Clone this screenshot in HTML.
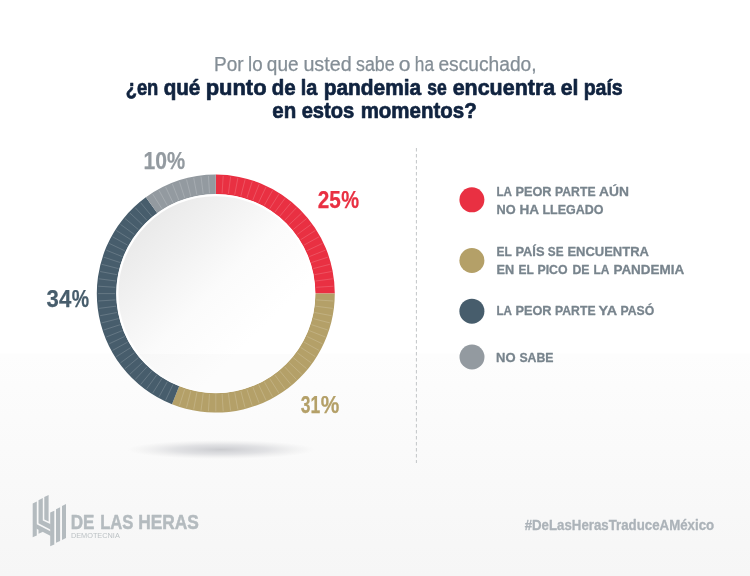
<!DOCTYPE html>
<html lang="es">
<head>
<meta charset="utf-8">
<title>¿En qué punto de la pandemia se encuentra el país?</title>
<style>
  html, body { margin: 0; padding: 0; }
  body { width: 750px; height: 576px; overflow: hidden; background: #fff;
         font-family: "Liberation Sans", sans-serif; }
  .card { position: relative; width: 750px; height: 576px; overflow: hidden;
          background: linear-gradient(to bottom, #ffffff 0px, #ffffff 353px, #fdfdfd 354px, #f6f6f6 576px); }
  svg { position: absolute; left: 0; top: 0; display: block; }
  svg text { font-family: "Liberation Sans", sans-serif; white-space: pre; }
</style>
</head>
<body>
<div class="card">
<svg width="750" height="576" viewBox="0 0 750 576">
  <defs>
    <clipPath id="discClip"><circle cx="215.8" cy="293.6" r="99.4"/></clipPath>
    <linearGradient id="disc" x1="0.15" y1="0.15" x2="0.85" y2="0.85">
      <stop offset="0" stop-color="#eaeaea"/>
      <stop offset="0.48" stop-color="#fbfbfb"/>
      <stop offset="0.8" stop-color="#ffffff"/>
    </linearGradient>
    <radialGradient id="shadow" cx="0.5" cy="0.5" r="0.5">
      <stop offset="0" stop-color="#c8c9cd" stop-opacity="0.95"/>
      <stop offset="0.5" stop-color="#d0d1d5" stop-opacity="0.6"/>
      <stop offset="1" stop-color="#e0e0e0" stop-opacity="0"/>
    </radialGradient>
  </defs>

  <!-- title -->
  <g id="title">
    <text y="70.5" font-size="19.5" font-weight="400" fill="#848e96" stroke="#848e96" stroke-width="0.25" stroke-linejoin="round"><tspan x="214.03" textLength="29.55" lengthAdjust="spacingAndGlyphs">Por</tspan> <tspan x="248.03" textLength="14.56" lengthAdjust="spacingAndGlyphs">lo</tspan> <tspan x="266.82" textLength="31.76" lengthAdjust="spacingAndGlyphs">que</tspan> <tspan x="303.43" textLength="48.16" lengthAdjust="spacingAndGlyphs">usted</tspan> <tspan x="356.03" textLength="38.56" lengthAdjust="spacingAndGlyphs">sabe</tspan> <tspan x="398.82" textLength="11.75" lengthAdjust="spacingAndGlyphs">o</tspan> <tspan x="414.82" textLength="19.14" lengthAdjust="spacingAndGlyphs">ha</tspan> <tspan x="438.43" textLength="98.15" lengthAdjust="spacingAndGlyphs">escuchado,</tspan></text>
    <text y="95.0" font-size="22.9" font-weight="700" fill="#10233f" stroke="#10233f" stroke-width="0.7" stroke-linejoin="round"><tspan x="125.65" textLength="32.70" lengthAdjust="spacingAndGlyphs">¿en</tspan> <tspan x="163.65" textLength="36.70" lengthAdjust="spacingAndGlyphs">qué</tspan> <tspan x="205.65" textLength="60.91" lengthAdjust="spacingAndGlyphs">punto</tspan> <tspan x="271.65" textLength="23.90" lengthAdjust="spacingAndGlyphs">de</tspan> <tspan x="300.65" textLength="16.56" lengthAdjust="spacingAndGlyphs">la</tspan> <tspan x="323.65" textLength="97.55" lengthAdjust="spacingAndGlyphs">pandemia</tspan> <tspan x="427.25" textLength="19.51" lengthAdjust="spacingAndGlyphs">se</tspan> <tspan x="452.65" textLength="102.56" lengthAdjust="spacingAndGlyphs">encuentra</tspan> <tspan x="560.65" textLength="17.70" lengthAdjust="spacingAndGlyphs">el</tspan> <tspan x="583.65" textLength="39.10" lengthAdjust="spacingAndGlyphs">país</tspan></text>
    <text y="117.6" font-size="22.9" font-weight="700" fill="#10233f" stroke="#10233f" stroke-width="0.7" stroke-linejoin="round"><tspan x="272.25" textLength="23.90" lengthAdjust="spacingAndGlyphs">en</tspan> <tspan x="301.65" textLength="52.71" lengthAdjust="spacingAndGlyphs">estos</tspan> <tspan x="360.65" textLength="116.10" lengthAdjust="spacingAndGlyphs">momentos?</tspan></text>
  </g>

  <!-- donut chart -->
  <ellipse cx="221" cy="449.6" rx="94" ry="9.5" fill="url(#shadow)"/>
  <g id="donut">
    <path fill="#e93042" d="M215.80 174.60A119.0 119.0 0 0 1 334.80 293.60L315.20 293.60A99.4 99.4 0 0 0 215.80 194.20Z"/>
    <path fill="#b4a068" d="M334.80 293.60A119.0 119.0 0 0 1 171.99 404.24L179.21 386.02A99.4 99.4 0 0 0 315.20 293.60Z"/>
    <path fill="#475d6c" d="M171.99 404.24A119.0 119.0 0 0 1 145.85 197.33L157.37 213.18A99.4 99.4 0 0 0 179.21 386.02Z"/>
    <path fill="#939aa0" d="M145.85 197.33A119.0 119.0 0 0 1 215.80 174.60L215.80 194.20A99.4 99.4 0 0 0 157.37 213.18Z"/>
    <path d="M222.1 193.2L223.2 176.0M228.4 193.8L230.6 176.7M234.7 194.8L237.9 177.9M240.8 196.2L245.1 179.5M246.9 197.9L252.2 181.6M252.8 200.1L259.2 184.1M258.6 202.6L266.0 187.0M264.3 205.4L272.6 190.4M269.7 208.7L278.9 194.1M274.9 212.2L285.0 198.3M279.9 216.1L290.9 202.8M284.7 220.3L296.4 207.7M289.1 224.7L301.7 213.0M293.3 229.5L306.6 218.5M297.2 234.5L311.1 224.4M300.7 239.7L315.3 230.5M304.0 245.1L319.0 236.8M306.8 250.8L322.4 243.4M309.3 256.6L325.3 250.2M311.5 262.5L327.8 257.2M313.2 268.6L329.9 264.3M314.6 274.7L331.5 271.5M315.6 281.0L332.7 278.8M316.2 287.3L333.4 286.2M316.2 299.9L333.4 301.0M315.6 306.2L332.7 308.4M314.6 312.5L331.5 315.7M313.2 318.6L329.9 322.9M311.5 324.7L327.8 330.0M309.3 330.6L325.3 337.0M306.8 336.4L322.4 343.8M304.0 342.1L319.0 350.4M300.7 347.5L315.3 356.7M297.2 352.7L311.1 362.8M293.3 357.7L306.6 368.7M289.1 362.5L301.7 374.2M284.7 366.9L296.4 379.5M279.9 371.1L290.9 384.4M274.9 375.0L285.0 388.9M269.7 378.5L278.9 393.1M264.3 381.8L272.6 396.8M258.6 384.6L266.0 400.2M252.8 387.1L259.2 403.1M246.9 389.3L252.2 405.6M240.8 391.0L245.1 407.7M234.7 392.4L237.9 409.3M228.4 393.4L230.6 410.5M222.1 394.0L223.2 411.2M215.8 394.2L215.8 411.4M209.5 394.0L208.4 411.2M203.2 393.4L201.0 410.5M196.9 392.4L193.7 409.3M190.8 391.0L186.5 407.7M184.7 389.3L179.4 405.6M173.0 384.6L165.6 400.2M167.3 381.8L159.0 396.8M161.9 378.5L152.7 393.1M156.7 375.0L146.6 388.9M151.7 371.1L140.7 384.4M146.9 366.9L135.2 379.5M142.5 362.5L129.9 374.2M138.3 357.7L125.0 368.7M134.4 352.7L120.5 362.8M130.9 347.5L116.3 356.7M127.6 342.1L112.6 350.4M124.8 336.4L109.2 343.8M122.3 330.6L106.3 337.0M120.1 324.7L103.8 330.0M118.4 318.6L101.7 322.9M117.0 312.5L100.1 315.7M116.0 306.2L98.9 308.4M115.4 299.9L98.2 301.0M115.2 293.6L98.0 293.6M115.4 287.3L98.2 286.2M116.0 281.0L98.9 278.8M117.0 274.7L100.1 271.5M118.4 268.6L101.7 264.3M120.1 262.5L103.8 257.2M122.3 256.6L106.3 250.2M124.8 250.8L109.2 243.4M127.6 245.1L112.6 236.8M130.9 239.7L116.3 230.5M134.4 234.5L120.5 224.4M138.3 229.5L125.0 218.5M142.5 224.7L129.9 213.0M146.9 220.3L135.2 207.7M151.7 216.1L140.7 202.8M161.9 208.7L152.7 194.1M167.3 205.4L159.0 190.4M173.0 202.6L165.6 187.0M178.8 200.1L172.4 184.1M184.7 197.9L179.4 181.6M190.8 196.2L186.5 179.5M196.9 194.8L193.7 177.9M203.2 193.8L201.0 176.7M209.5 193.2L208.4 176.0" stroke="#ffffff" stroke-opacity="0.28" stroke-width="0.6" fill="none"/>
    <circle cx="215.8" cy="293.6" r="99.6" fill="#ffffff"/>
    <circle cx="215.8" cy="293.6" r="97.4" fill="url(#disc)"/>
    <rect x="110" y="354" width="212" height="40" fill="#000000" fill-opacity="0.012" clip-path="url(#discClip)"/>
  </g>
  <g id="values">
    <text y="168.7" font-size="23.8" font-weight="700" fill="#939aa0" stroke="#939aa0" stroke-width="0.25" stroke-linejoin="round"><tspan x="143.62" textLength="23.46" lengthAdjust="spacingAndGlyphs">10</tspan><tspan x="167.12" textLength="18.15" lengthAdjust="spacingAndGlyphs">%</tspan></text>
    <text y="207.8" font-size="23.8" font-weight="700" fill="#e93042" stroke="#e93042" stroke-width="0.25" stroke-linejoin="round"><tspan x="317.72" textLength="23.06" lengthAdjust="spacingAndGlyphs">25</tspan><tspan x="341.32" textLength="17.85" lengthAdjust="spacingAndGlyphs">%</tspan></text>
    <text y="306.9" font-size="23.8" font-weight="700" fill="#475d6c" stroke="#475d6c" stroke-width="0.25" stroke-linejoin="round"><tspan x="46.62" textLength="24.66" lengthAdjust="spacingAndGlyphs">34</tspan><tspan x="71.83" textLength="17.35" lengthAdjust="spacingAndGlyphs">%</tspan></text>
    <text y="412.8" font-size="23.8" font-weight="700" fill="#b4a068" stroke="#b4a068" stroke-width="0.25" stroke-linejoin="round"><tspan x="300.72" textLength="19.46" lengthAdjust="spacingAndGlyphs">31</tspan><tspan x="320.72" textLength="18.55" lengthAdjust="spacingAndGlyphs">%</tspan></text>
  </g>

  <!-- divider -->
  <line x1="416.4" y1="148" x2="416.4" y2="463" stroke="#c2c5c8" stroke-width="1" stroke-dasharray="3.5 2.5"/>

  <!-- legend -->
  <g id="legend" fill="#78848d">
    <circle cx="471.9" cy="199.8" r="12.5" fill="#e93042"/>
    <text y="195.8" font-size="13.5" font-weight="700" fill="#78848d" stroke="#78848d" stroke-width="0.3" stroke-linejoin="round"><tspan x="496.45" textLength="15.10" lengthAdjust="spacingAndGlyphs">LA</tspan> <tspan x="515.45" textLength="36.10" lengthAdjust="spacingAndGlyphs">PEOR</tspan> <tspan x="555.05" textLength="40.50" lengthAdjust="spacingAndGlyphs">PARTE</tspan> <tspan x="599.05" textLength="29.89" lengthAdjust="spacingAndGlyphs">AÚN</tspan></text>
    <text y="213.8" font-size="13.5" font-weight="700" fill="#78848d" stroke="#78848d" stroke-width="0.3" stroke-linejoin="round"><tspan x="496.45" textLength="19.10" lengthAdjust="spacingAndGlyphs">NO</tspan> <tspan x="519.45" textLength="19.10" lengthAdjust="spacingAndGlyphs">HA</tspan> <tspan x="542.45" textLength="61.10" lengthAdjust="spacingAndGlyphs">LLEGADO</tspan></text>
    <circle cx="471.9" cy="260.5" r="12.5" fill="#b4a068"/>
    <text y="255.8" font-size="13.5" font-weight="700" fill="#78848d" stroke="#78848d" stroke-width="0.3" stroke-linejoin="round"><tspan x="496.45" textLength="15.10" lengthAdjust="spacingAndGlyphs">EL</tspan> <tspan x="515.45" textLength="29.10" lengthAdjust="spacingAndGlyphs">PAÍS</tspan> <tspan x="547.85" textLength="15.70" lengthAdjust="spacingAndGlyphs">SE</tspan> <tspan x="567.45" textLength="81.50" lengthAdjust="spacingAndGlyphs">ENCUENTRA</tspan></text>
    <text y="273.8" font-size="13.5" font-weight="700" fill="#78848d" stroke="#78848d" stroke-width="0.3" stroke-linejoin="round"><tspan x="496.45" textLength="17.70" lengthAdjust="spacingAndGlyphs">EN</tspan> <tspan x="518.45" textLength="15.10" lengthAdjust="spacingAndGlyphs">EL</tspan> <tspan x="537.45" textLength="30.10" lengthAdjust="spacingAndGlyphs">PICO</tspan> <tspan x="572.45" textLength="17.10" lengthAdjust="spacingAndGlyphs">DE</tspan> <tspan x="593.45" textLength="15.50" lengthAdjust="spacingAndGlyphs">LA</tspan> <tspan x="613.45" textLength="70.70" lengthAdjust="spacingAndGlyphs">PANDEMIA</tspan></text>
    <circle cx="471.9" cy="311.2" r="12.5" fill="#475d6c"/>
    <text y="314.6" font-size="13.5" font-weight="700" fill="#78848d" stroke="#78848d" stroke-width="0.3" stroke-linejoin="round"><tspan x="496.45" textLength="15.10" lengthAdjust="spacingAndGlyphs">LA</tspan> <tspan x="515.45" textLength="36.10" lengthAdjust="spacingAndGlyphs">PEOR</tspan> <tspan x="555.05" textLength="40.50" lengthAdjust="spacingAndGlyphs">PARTE</tspan> <tspan x="598.45" textLength="18.11" lengthAdjust="spacingAndGlyphs">YA</tspan> <tspan x="620.45" textLength="33.70" lengthAdjust="spacingAndGlyphs">PASÓ</tspan></text>
    <circle cx="472" cy="357" r="12.5" fill="#939aa0"/>
    <text y="361.6" font-size="13.5" font-weight="700" fill="#78848d" stroke="#78848d" stroke-width="0.3" stroke-linejoin="round"><tspan x="496.05" textLength="19.50" lengthAdjust="spacingAndGlyphs">NO</tspan> <tspan x="519.45" textLength="34.10" lengthAdjust="spacingAndGlyphs">SABE</tspan></text>
  </g>

  <!-- footer -->
  <g id="footer" fill="#b4bbbf">
    <g id="logo">
      <polygon points="32.7,503.5 36.8,501.6 36.8,535.6 32.7,537.2"/>
      <polygon points="38.5,500.3 42.8,498.1 42.8,520.4 50.8,524.2 50.8,529.8 38.5,523.3"/>
      <polygon points="44.3,497.1 48.6,494.9 48.6,521.6 44.3,519.5"/>
      <polygon points="36.2,524.1 50.8,531.4 50.8,535.9 42.5,531.8 42.5,532.1 38.5,533.7 38.5,529.7 36.2,528.6"/>
      <polygon points="50.2,512.5 54.3,510.7 54.3,544.4 50.2,546.3"/>
      <polygon points="56,509.3 60.1,507.2 60.1,540.9 56,542.8"/>
      <polygon points="62,505.9 66,504 66,538 62,539.9"/>
    </g>
    <text y="529.2" font-size="20.6" font-weight="700" fill="#b4bbbf" stroke="#b4bbbf" stroke-width="0.5" stroke-linejoin="round"><tspan x="70.65" textLength="23.70" lengthAdjust="spacingAndGlyphs">DE</tspan> <tspan x="100.15" textLength="33.20" lengthAdjust="spacingAndGlyphs">LAS</tspan> <tspan x="138.15" textLength="60.69" lengthAdjust="spacingAndGlyphs">HERAS</tspan></text>
    <text y="537.7" font-size="6.8" font-weight="400" fill="#bcc2c5"><tspan x="70.90" textLength="48.90" lengthAdjust="spacingAndGlyphs">DEMOTECNIA</tspan></text>
    <text y="530.0" font-size="14.6" font-weight="700" fill="#acb3b9" stroke="#acb3b9" stroke-width="0.3" stroke-linejoin="round"><tspan x="524.65" textLength="189.50" lengthAdjust="spacingAndGlyphs">#DeLasHerasTraduceAMéxico</tspan></text>
  </g>
</svg>
</div>
</body>
</html>
